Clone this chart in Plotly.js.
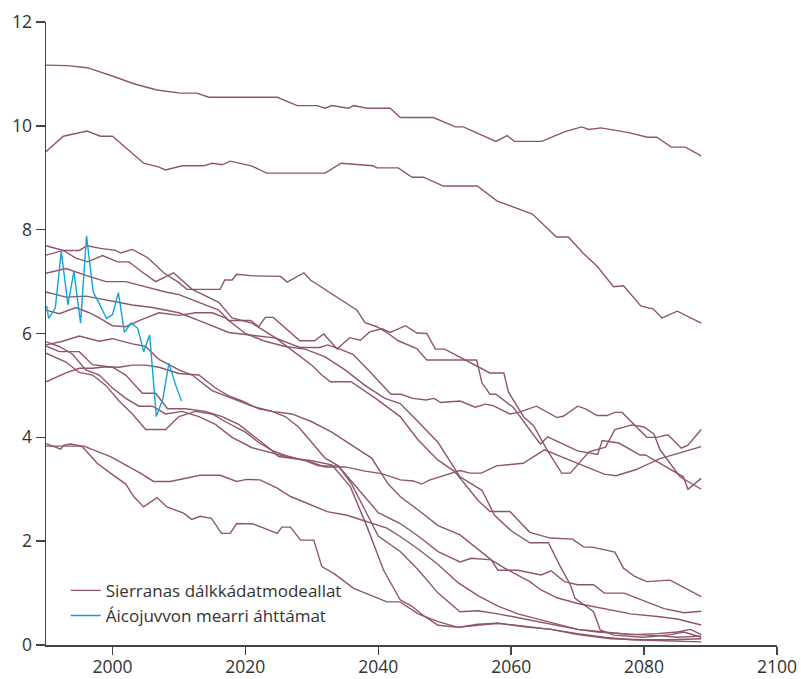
<!DOCTYPE html>
<html><head><meta charset="utf-8">
<script src="https://cdn.plot.ly/plotly-3.0.1.min.js"></script>
<style>html,body{margin:0;padding:0;background:#fff}#chart{width:801px;height:679px}</style>
</head><body><div id="chart"></div>
<script>
// Model series (years, values)
const m1Years = [1990,1993.2,1996.2,1997.7,2000.2,2003.2,2006.7,2010.2,2012.7,2014.5,2024.8,2027.8,2030.8,2032,2033,2035.5,2036.3,2038.3,2041.8,2043.3,2048.3,2051.6,2052.8,2057.7,2059.4,2060.5,2064.6,2068.1,2070.6,2071.7,2073.5,2077.7,2080.5,2081.9,2084.1,2086.2,2088.6];
const m1 = [11.17,11.16,11.12,11.06,10.95,10.81,10.69,10.63,10.63,10.55,10.55,10.39,10.39,10.34,10.39,10.34,10.39,10.34,10.34,10.16,10.16,9.98,9.98,9.70,9.81,9.70,9.70,9.89,9.98,9.93,9.96,9.87,9.78,9.78,9.59,9.59,9.42];

const m2Years = [1990,1992.6,1996.2,1998.2,2000,2004.7,2006.9,2008,2010.5,2013.7,2015,2016.5,2017.7,2020.9,2023.2,2032,2034.4,2039.2,2039.8,2043,2045.1,2046.8,2049.8,2054.9,2057.9,2063.2,2066.8,2068.6,2070.8,2072.9,2075.4,2076.9,2079.5,2081.4,2082.7,2085,2088.6];
const m2 = [9.50,9.80,9.90,9.80,9.80,9.28,9.21,9.15,9.23,9.23,9.28,9.25,9.32,9.23,9.09,9.09,9.28,9.23,9.19,9.19,9.01,9.01,8.84,8.84,8.55,8.30,7.86,7.86,7.55,7.30,6.90,6.92,6.53,6.47,6.30,6.43,6.20];

const rYears = [1990,1992.6,1995,1996.2,1998.2,2000.5,2001.2,2003,2005.3,2007.8,2010,2011.2,2016.2,2016.9,2018,2018.7,2021.2,2025.3,2026.3,2028.8,2029.8,2036.8,2038,2039.8,2041.5,2043,2045.8,2047.3,2054.8,2055.6,2056.8,2057.7,2060.3,2064.4,2065.5,2070,2073,2073.7,2076.2,2079.4,2080.2,2085.9,2086.6,2088.6];
const rVals = [7.69,7.60,7.60,7.69,7.64,7.60,7.55,7.62,7.46,7.16,6.98,6.85,6.85,7.03,7.03,7.14,7.11,7.10,6.99,7.17,7.03,6.45,6.21,6.13,6.00,5.86,5.71,5.49,5.49,5.05,4.83,4.83,4.58,3.87,4.01,3.74,3.67,3.94,3.89,3.66,3.66,3.24,3.00,3.21];

const sYears = [1990,1993,1996,1999,2002,2005,2008,2010,2013,2016,2017.5,2020.8,2022,2023,2024.2,2028.2,2030.4,2031.8,2033.8,2035.7,2037.3,2038.7,2040.6,2041.8,2044.1,2045.8,2047.3,2048.6,2050,2051.8,2053.2,2055.3,2056.8,2058.9,2059.6,2061.9,2063.4,2065.4,2067.6,2068.9,2071.7,2074.2,2075.6,2078.2,2080,2081.5,2082.4,2085.4,2088.6];
const sVals = [7.16,7.25,7.12,7.00,7.00,6.90,6.80,6.75,6.60,6.45,6.25,6.25,6.13,6.31,6.31,5.86,5.86,5.99,5.70,5.92,5.87,6.03,6.09,6.02,6.15,6.01,6.00,5.70,5.70,5.58,5.49,5.35,5.24,5.24,4.87,4.39,4.22,3.76,3.31,3.31,3.72,3.81,4.15,4.24,4.20,4.06,3.76,3.24,3.00];

const pYears = [1990,1993,1996,2000,2003,2006,2010,2014,2017.5,2024.6,2028.2,2031.2,2032.4,2034.2,2036.2,2039.2,2041.9,2043.4,2045.2,2047.2,2048.4,2049.4,2052.3,2054.6,2056.1,2057.3,2059.8,2061.1,2063.8,2066.9,2067.9,2070,2071.2,2072.9,2074.4,2075.6,2076.7,2080.4,2081.9,2083.6,2085.6,2086.6,2088.6];
const pVals = [6.80,6.70,6.72,6.62,6.55,6.50,6.40,6.20,6.02,5.91,5.73,5.73,5.78,5.70,5.60,5.20,4.83,4.83,4.75,4.72,4.75,4.67,4.70,4.58,4.64,4.61,4.45,4.48,4.60,4.38,4.41,4.60,4.55,4.42,4.42,4.48,4.48,4.00,4.00,4.05,3.79,3.85,4.15];

const qYears = [1990,1992,1995,1997,2000,2002,2004.5,2006.5,2008.3,2011,2014,2016.5,2019,2021.5,2023.5,2025,2029,2032,2035,2038,2040.5,2043.3,2045.3,2046.5,2047.8,2052.3,2053.8,2055.5,2057.8,2061.8,2065,2068.8,2074,2075.8,2078.8,2082.4,2088.6];
const qVals = [5.76,5.65,5.65,5.40,5.35,5.20,4.85,4.85,4.55,4.55,4.50,4.40,4.25,4.00,3.80,3.63,3.56,3.43,3.43,3.35,3.30,3.18,3.16,3.10,3.18,3.36,3.31,3.31,3.45,3.50,3.76,3.56,3.29,3.26,3.38,3.59,3.82];

const tYears = [1990,1992.6,1994.5,1996.3,1998.5,2000.8,2002.5,2004.3,2006.5,2009.2,2012,2016,2018,2021,2024.6,2030,2031.5,2032.8,2035.9,2039.6,2043.3,2046,2049,2051.5,2055,2056.8,2059.8,2062.8,2065.9,2069.2,2070.9,2072.4,2075.6,2076.9,2078.6,2080.4,2083.9,2085.6,2088.6];
const tVals = [7.51,7.60,7.45,7.38,7.50,7.38,7.38,7.20,7.00,7.17,6.85,6.60,6.30,6.20,5.91,5.39,5.20,5.07,5.07,4.75,4.40,3.95,3.56,3.34,2.79,2.57,2.57,2.17,2.06,2.04,1.89,1.88,1.79,1.48,1.32,1.22,1.25,1.14,0.93];

const vYears = [1990,1992,1994.5,1996.5,1998,2000,2002,2004,2007,2010,2012.5,2015,2017,2020,2023,2026,2029,2032,2035,2038,2041,2043.3,2046,2049,2052.3,2055.6,2057.5,2060,2062.8,2065.6,2067.4,2068.9,2069.6,2072.4,2073.4,2075.4,2080,2084,2086,2088.6];
const vVals = [6.45,6.38,6.50,6.40,6.30,6.15,6.13,6.25,6.40,6.35,6.40,6.40,6.30,6.00,5.85,5.75,5.70,5.55,5.30,5.00,4.75,4.65,4.30,3.90,3.24,2.98,2.50,2.20,1.97,1.97,1.51,1.16,0.90,0.64,0.29,0.19,0.15,0.20,0.25,0.15];

const xYears = [1990,1992,1994,1996,1998,2000,2002,2004,2006,2008,2010.5,2013,2015.5,2018,2021,2024,2027,2030,2033,2035.8,2038.3,2040.8,2043.3,2045,2047,2049,2052,2055,2058,2062,2066,2070,2074,2078,2082,2088.6];
const xVals = [5.84,5.75,5.60,5.30,5.20,4.95,4.75,4.60,4.60,4.45,4.50,4.40,4.25,4.00,3.80,3.70,3.60,3.55,3.47,3.05,2.28,1.44,0.87,0.75,0.55,0.38,0.34,0.40,0.42,0.36,0.30,0.22,0.15,0.10,0.08,0.06];

const yYears = [1990,1992.5,1995,1998,2000,2003,2005,2007,2010,2012,2015,2018,2021,2024,2027,2030,2033,2036,2039,2041.5,2043.3,2046,2049,2052.3,2054,2057,2059,2062.8,2064.5,2066.9,2070,2074,2078,2082,2085,2088.6];
const yVals = [5.78,5.85,5.95,5.85,5.90,5.80,5.75,5.50,5.30,5.20,4.90,4.75,4.60,4.50,4.45,4.30,4.10,3.85,3.60,3.10,2.86,2.60,2.30,2.12,1.95,1.64,1.48,1.22,1.06,0.91,0.80,0.70,0.60,0.55,0.50,0.385];

const zYears = [1990,1993,1995,1997,1999,2001,2003,2005,2008,2010,2012.5,2015,2017,2020,2022,2024,2026,2029,2031,2034,2036,2038,2040,2043.3,2046,2049,2052.3,2054,2057,2058,2061,2064.5,2066,2068,2070,2072.4,2074,2077,2080,2083,2086,2088.6];
const zVals = [5.62,5.45,5.25,5.20,5.00,4.70,4.45,4.15,4.15,4.40,4.50,4.45,4.30,4.10,3.90,3.75,3.65,3.55,3.45,3.45,3.15,2.85,2.55,2.34,2.10,1.80,1.60,1.67,1.64,1.44,1.44,1.35,1.43,1.22,1.16,1.16,1.00,1.00,0.85,0.70,0.62,0.65];

const aYears = [1990,1993,1995,1997,1999,2001,2003,2005,2007,2010,2013,2015.5,2017.5,2019.5,2022,2024,2026,2028,2030,2032,2034,2036,2038,2040,2043.3,2046,2049,2052.3,2055,2058,2062,2066,2070,2074,2078,2082,2085,2087,2088.6];
const aVals = [5.07,5.24,5.33,5.33,5.36,5.35,5.39,5.39,5.35,5.23,5.20,4.95,4.80,4.70,4.55,4.50,4.40,4.20,3.90,3.60,3.45,3.10,2.60,2.10,1.80,1.45,1.00,0.64,0.66,0.60,0.50,0.40,0.30,0.25,0.20,0.22,0.25,0.30,0.20];

const bYears = [1990,1992.2,1992.7,1993.7,1995.4,1997.7,1999.7,2000.5,2002,2003.2,2004.7,2006.7,2008.2,2010.7,2011.9,2013.2,2014.9,2016.4,2017.7,2018.7,2021.2,2022.8,2024.8,2025.5,2026.8,2028.3,2030.3,2031.5,2033.3,2036.3,2039.8,2041.3,2043.3,2046,2049,2052,2055,2058,2062,2066,2070,2075,2080,2084,2088.6];
const bVals = [3.88,3.77,3.85,3.87,3.83,3.50,3.31,3.24,3.10,2.86,2.66,2.84,2.66,2.54,2.42,2.48,2.44,2.15,2.15,2.34,2.33,2.25,2.15,2.27,2.27,2.02,2.02,1.51,1.38,1.09,0.90,0.83,0.83,0.60,0.45,0.34,0.38,0.42,0.35,0.30,0.20,0.12,0.10,0.10,0.12];

const cYears = [1990,1995.7,1999.7,2004.2,2006.2,2008.7,2013.2,2016.2,2018.7,2020.2,2022.2,2024.8,2026.8,2029.3,2032.3,2035.3,2038.3,2041.3,2043.3,2046,2049,2052,2055,2058,2061,2064,2067,2070,2073,2076,2079,2082,2085,2088.6];
const cVals = [3.83,3.83,3.63,3.31,3.15,3.15,3.27,3.27,3.15,3.19,3.18,3.02,2.86,2.73,2.57,2.50,2.37,2.25,2.09,1.85,1.55,1.20,0.95,0.75,0.60,0.50,0.40,0.30,0.25,0.22,0.20,0.18,0.15,0.17];

// Observed series
const obsYears = [1990.1,1990.4,1991.4,1992.3,1993.3,1994.2,1995.2,1996.1,1997.1,1997.9,1999.1,2000.0,2000.9,2001.8,2002.8,2003.8,2004.7,2005.6,2006.6,2007.6,2008.5,2009.5,2010.4];
const obsVals = [6.53,6.29,6.49,7.58,6.55,7.19,6.20,7.88,6.80,6.61,6.29,6.36,6.79,6.02,6.20,6.10,5.65,5.97,4.40,4.75,5.43,5.01,4.70];

const xTicks = [2000,2020,2040,2060,2080,2100];
const yTicks = [0,2,4,6,8,10,12];
const modelName = "Sierranas dálkkádatmodeallat";
const obsName = "Áicojuvvon mearri áhttámat";

const modelColor = "#8e5569";
const obsColor = "#12a3d6";

const models = [
  [m1Years,m1],[m2Years,m2],[rYears,rVals],[sYears,sVals],[pYears,pVals],[qYears,qVals],
  [tYears,tVals],[vYears,vVals],[xYears,xVals],[yYears,yVals],[zYears,zVals],[aYears,aVals],
  [bYears,bVals],[cYears,cVals]
];

const traces = models.map((m,i)=>({
  x:m[0], y:m[1], type:'scatter', mode:'lines',
  line:{color:modelColor,width:1.4},
  name:modelName, legendgroup:'model', showlegend:i===0, hoverinfo:'skip'
}));
traces.push({x:obsYears,y:obsVals,type:'scatter',mode:'lines',
  line:{color:obsColor,width:1.4},name:obsName,showlegend:true});

const font = {family:'"Open Sans", "Noto Sans", sans-serif', size:17, color:'#333'};
const tickFont = {family:'"Open Sans", "Noto Sans", sans-serif', size:17.5, color:'#333'};
const layout = {
  width:801, height:679,
  margin:{l:46,r:24,t:22,b:34},
  paper_bgcolor:'#fff', plot_bgcolor:'#fff',
  font:font,
  showlegend:true,
  legend:{x:0.027,y:0.018,xanchor:'left',yanchor:'bottom',bgcolor:'rgba(0,0,0,0)',font:font,tracegroupgap:0,itemwidth:30},
  xaxis:{range:[1990,2100],tickvals:xTicks,ticktext:xTicks.map(String),showgrid:false,zeroline:false,
    showline:true,linecolor:'#444',linewidth:1.5,ticks:'outside',ticklen:8,tickwidth:1.5,tickcolor:'#444',
    tickfont:tickFont,ticklabelstandoff:-3,fixedrange:true},
  yaxis:{range:[0,12],tickvals:yTicks,ticktext:yTicks.map(String),showgrid:false,zeroline:false,
    showline:true,linecolor:'#444',linewidth:1.5,ticks:'outside',ticklen:9,tickwidth:1.5,tickcolor:'#444',
    tickfont:tickFont,fixedrange:true}
};
Plotly.newPlot('chart',traces,layout,{displayModeBar:false,staticPlot:true});
</script></body></html>
